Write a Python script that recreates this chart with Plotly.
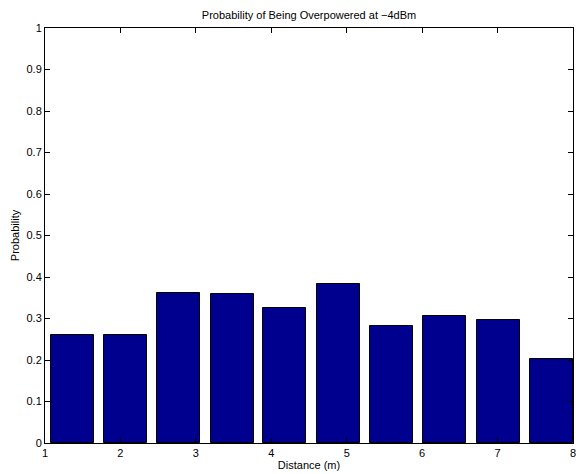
import plotly.graph_objects as go

distance = [1.365, 2.068, 2.773, 3.48, 4.18, 4.886, 5.595, 6.30, 7.008, 7.71]
probability = [0.26, 0.26, 0.361, 0.358, 0.325, 0.382, 0.281, 0.306, 0.296, 0.202]
x_ticks = [1, 2, 3, 4, 5, 6, 7, 8]
y_ticks = [0, 0.1, 0.2, 0.3, 0.4, 0.5, 0.6, 0.7, 0.8, 0.9, 1]
y_ticklabels = ["0", "0.1", "0.2", "0.3", "0.4", "0.5", "0.6", "0.7", "0.8", "0.9", "1"]

font = "Liberation Sans, Arial, Helvetica, sans-serif"

fig = go.Figure(go.Bar(
    x=distance, y=probability, width=0.57,
    marker=dict(color="#00008F", line=dict(color="black", width=1)),
))

fig.update_layout(
    width=576, height=474,
    margin=dict(l=45, r=3, t=28, b=31, autoexpand=False),
    paper_bgcolor="white", plot_bgcolor="white",
    showlegend=False,
    font=dict(family=font, size=11, color="black"),
    title=dict(text="Probability of Being Overpowered at −4dBm",
               x=0.5, xanchor="center", xref="paper",
               y=1 - 15 / 474, yanchor="middle",
               font=dict(family=font, size=11, color="black")),
    bargap=0,
)
fig.update_xaxes(
    range=[1, 8], tickvals=x_ticks, ticks="inside", ticklen=5, tickcolor="black",
    showline=True, linecolor="black", linewidth=1, mirror="ticks",
    showgrid=False, zeroline=False, automargin=False,
    ticklabeloverflow="allow",
    title=dict(text="Distance (m)", standoff=3, font=dict(size=11)),
    tickfont=dict(size=11),
)
fig.update_yaxes(
    range=[0, 1], tickvals=y_ticks, ticktext=y_ticklabels, ticks="inside", ticklen=5,
    tickcolor="black",
    showline=True, linecolor="black", linewidth=1, mirror="ticks",
    showgrid=False, zeroline=False, automargin=False,
    title=dict(text="Probability", standoff=4, font=dict(size=11)),
    tickfont=dict(size=11),
)

fig.write_html("out.html", config={"displayModeBar": False},
               post_script="document.body.style.margin='0';document.body.style.padding='0';")
